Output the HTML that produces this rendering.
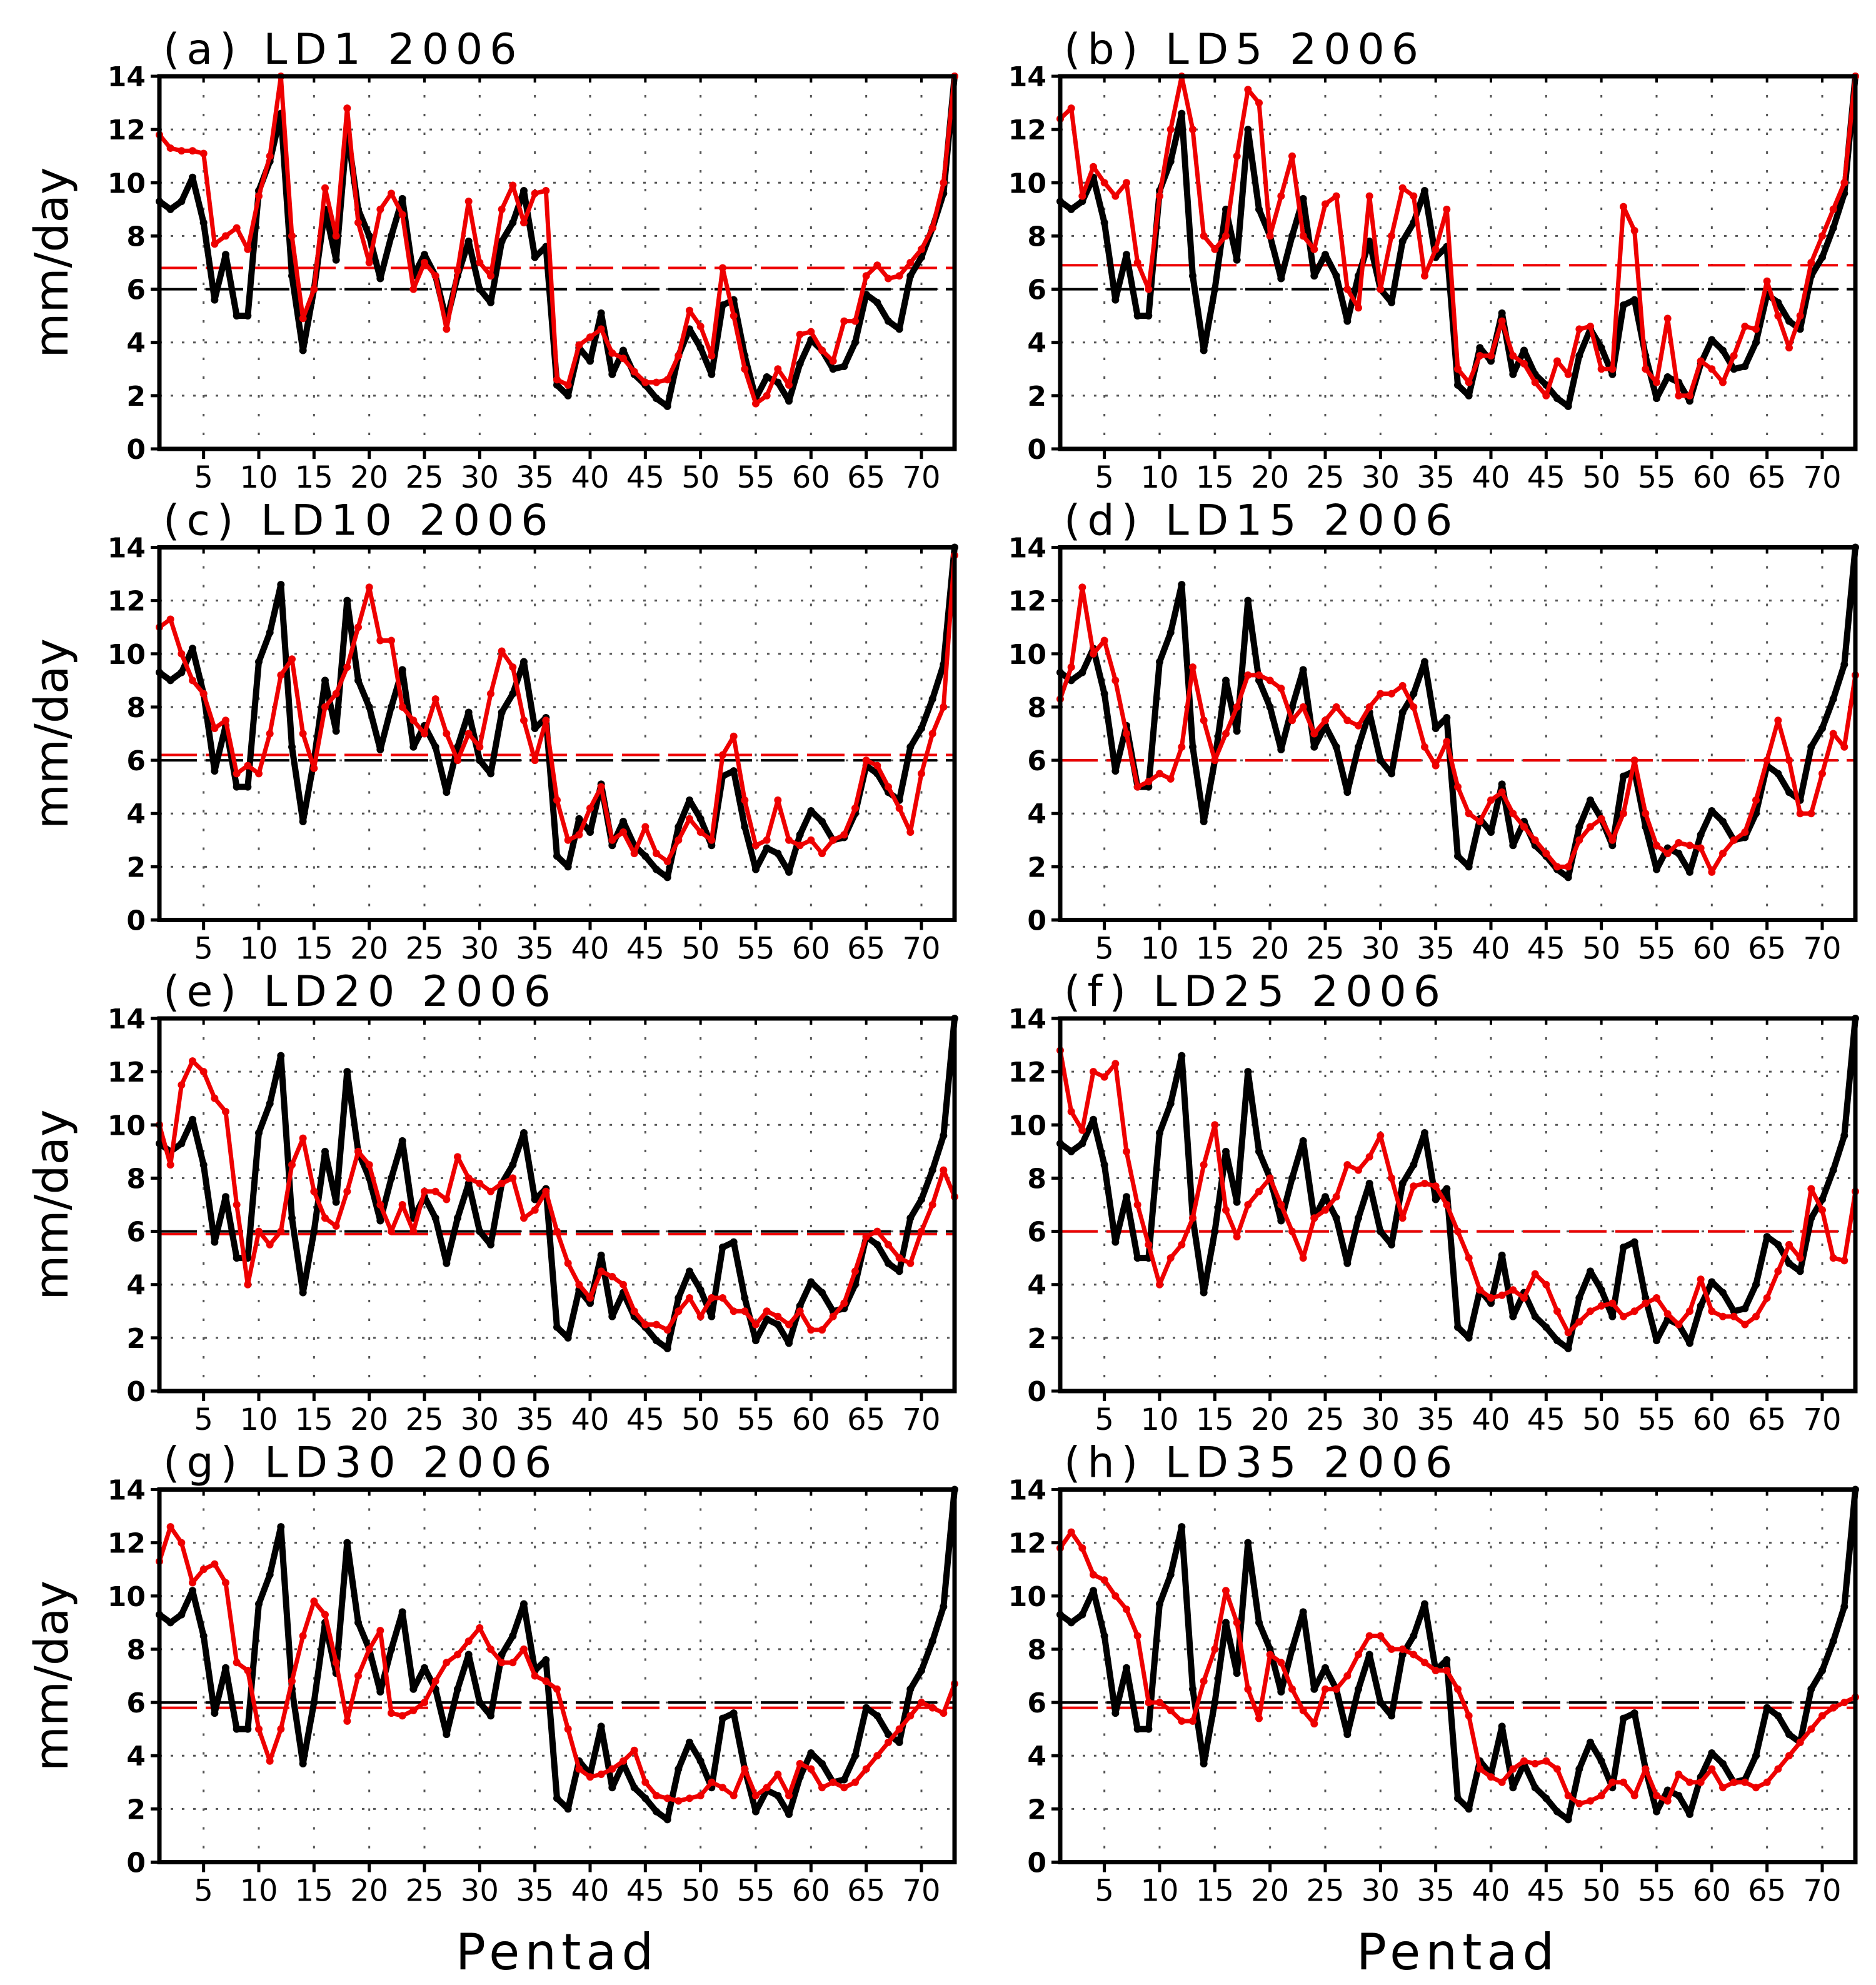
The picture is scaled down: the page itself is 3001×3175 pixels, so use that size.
<!DOCTYPE html>
<html><head><meta charset="utf-8"><style>
html,body{margin:0;padding:0;background:#fff;}
svg{display:block;}
text{font-family:"DejaVu Sans","Liberation Sans",sans-serif;fill:#000;}
</style></head><body>
<svg id="fig" width="3001" height="3175" viewBox="0 0 3001 3175" xmlns="http://www.w3.org/2000/svg"></svg>
<script>
const pentads = Array.from({length:73},(_,i)=>i+1);
const yTicks = [0,2,4,6,8,10,12,14];
const xTicks = [5,10,15,20,25,30,35,40,45,50,55,60,65,70];
const obs = [9.3,9.0,9.3,10.2,8.5,5.6,7.3,5.0,5.0,9.7,10.8,12.6,6.5,3.7,6.0,9.0,7.1,12.0,9.0,8.0,6.4,8.0,9.4,6.5,7.3,6.5,4.8,6.5,7.8,6.0,5.5,7.8,8.5,9.7,7.2,7.6,2.4,2.0,3.8,3.3,5.1,2.8,3.7,2.8,2.4,1.9,1.6,3.5,4.5,3.8,2.8,5.4,5.6,3.5,1.9,2.7,2.5,1.8,3.2,4.1,3.7,3.0,3.1,4.0,5.8,5.5,4.8,4.5,6.5,7.2,8.3,9.6,14.0];
const obsMean = 6.0;
const titles = ["(a)  LD1  2006","(b)  LD5  2006","(c)  LD10  2006","(d)  LD15  2006","(e)  LD20  2006","(f)  LD25  2006","(g)  LD30  2006","(h)  LD35  2006"];
const fcstMeans = [6.8,6.9,6.2,6.0,5.9,6.0,5.8,5.8];
const ld1 = [11.8,11.3,11.2,11.2,11.1,7.7,8.0,8.3,7.5,9.5,11.0,14.0,8.0,4.9,6.0,9.8,8.0,12.8,8.5,7.0,9.0,9.6,8.8,6.0,7.0,6.5,4.5,6.7,9.3,7.0,6.5,9.0,9.9,8.5,9.6,9.7,2.6,2.4,3.9,4.2,4.5,3.6,3.4,2.9,2.5,2.5,2.6,3.5,5.2,4.6,3.5,6.8,5.0,3.0,1.7,2.0,3.0,2.4,4.3,4.4,3.7,3.3,4.8,4.8,6.5,6.9,6.4,6.5,7.0,7.5,8.3,10.0,14.0];
const ld5 = [12.4,12.8,9.5,10.6,10.0,9.5,10.0,7.0,6.0,9.5,12.0,14.0,12.0,8.0,7.5,8.0,11.0,13.5,13.0,8.0,9.5,11.0,8.0,7.5,9.2,9.5,6.0,5.3,9.5,6.0,8.0,9.8,9.5,6.5,7.5,9.0,3.0,2.5,3.5,3.5,4.8,3.5,3.2,2.5,2.0,3.3,2.8,4.5,4.6,3.0,3.0,9.1,8.2,3.0,2.5,4.9,2.0,2.0,3.3,3.0,2.5,3.5,4.6,4.5,6.3,5.0,3.8,5.0,7.0,8.0,9.0,10.0,14.0];
const ld10 = [11.0,11.3,10.0,9.0,8.5,7.2,7.5,5.5,5.8,5.5,7.0,9.2,9.8,7.0,5.7,8.0,8.5,9.5,11.0,12.5,10.5,10.5,8.0,7.5,7.0,8.3,7.0,6.0,7.0,6.5,8.5,10.1,9.5,7.5,6.0,7.5,4.5,3.0,3.2,4.2,5.0,3.0,3.3,2.5,3.5,2.5,2.2,3.0,3.8,3.3,3.0,6.2,6.9,4.5,2.8,3.0,4.5,3.0,2.8,3.0,2.5,3.0,3.2,4.2,6.0,5.8,5.0,4.2,3.3,5.5,7.0,8.0,13.7];
const ld15 = [8.3,9.5,12.5,10.0,10.5,9.0,7.0,5.0,5.2,5.5,5.3,6.5,9.5,7.5,6.0,7.0,8.0,9.2,9.2,9.0,8.7,7.5,8.0,7.0,7.5,8.0,7.5,7.3,8.0,8.5,8.5,8.8,8.0,6.5,5.8,6.7,5.0,4.0,3.7,4.5,4.8,4.0,3.5,3.0,2.5,2.0,2.0,3.0,3.5,3.8,3.0,4.0,6.0,4.0,2.8,2.5,2.9,2.8,2.7,1.8,2.5,3.0,3.3,4.5,6.0,7.5,6.0,4.0,4.0,5.5,7.0,6.5,9.2];
const ld20 = [10.0,8.5,11.5,12.4,12.0,11.0,10.5,7.0,4.0,6.0,5.5,6.0,8.5,9.5,7.5,6.5,6.2,7.5,9.0,8.5,7.0,6.0,7.0,6.0,7.5,7.5,7.2,8.8,8.0,7.8,7.5,7.8,8.0,6.5,6.8,7.5,6.0,4.8,4.0,3.5,4.5,4.3,4.0,3.0,2.5,2.5,2.3,3.0,3.5,2.8,3.5,3.5,3.0,3.0,2.5,3.0,2.8,2.5,3.0,2.3,2.3,2.8,3.3,4.5,5.8,6.0,5.5,5.0,4.8,6.0,7.0,8.3,7.3];
const ld25 = [12.8,10.5,9.8,12.0,11.8,12.3,9.0,7.0,5.5,4.0,5.0,5.5,6.5,8.5,10.0,6.8,5.8,7.0,7.5,8.0,7.0,6.0,5.0,6.5,6.8,7.3,8.5,8.3,8.8,9.6,8.0,6.5,7.7,7.8,7.7,7.0,6.0,5.0,3.8,3.5,3.6,3.8,3.5,4.4,4.0,3.0,2.2,2.6,3.0,3.2,3.3,2.8,3.0,3.3,3.5,2.9,2.5,3.0,4.2,3.0,2.8,2.8,2.5,2.8,3.5,4.5,5.5,5.0,7.6,6.8,5.0,4.9,7.5];
const ld30 = [11.3,12.6,12.0,10.5,11.0,11.2,10.5,7.5,7.2,5.0,3.8,5.0,6.8,8.5,9.8,9.3,7.5,5.3,7.0,8.0,8.7,5.6,5.5,5.7,6.0,6.8,7.5,7.8,8.3,8.8,8.0,7.5,7.5,8.0,7.0,6.8,6.5,5.0,3.5,3.2,3.3,3.5,3.8,4.2,3.0,2.5,2.4,2.3,2.4,2.5,3.0,2.8,2.5,3.5,2.5,2.8,3.3,2.5,3.7,3.5,2.8,3.0,2.8,3.0,3.5,4.0,4.5,5.0,5.5,6.0,5.8,5.6,6.7];
const ld35 = [11.8,12.4,11.8,10.8,10.6,10.0,9.5,8.5,6.0,6.0,5.7,5.3,5.3,6.8,8.0,10.2,9.0,6.5,5.4,7.8,7.5,6.5,5.7,5.2,6.5,6.5,7.0,7.8,8.5,8.5,8.0,8.0,7.8,7.5,7.2,7.2,6.5,5.5,3.5,3.2,3.0,3.5,3.8,3.7,3.8,3.5,2.5,2.2,2.3,2.5,3.0,3.0,2.5,3.5,2.5,2.3,3.3,3.0,3.0,3.5,2.8,3.0,3.0,2.8,3.0,3.5,4.0,4.5,5.0,5.5,5.8,6.0,6.2];
const forecasts = [ld1,ld5,ld10,ld15,ld20,ld25,ld30,ld35];

const NS="http://www.w3.org/2000/svg";
const svg=document.getElementById('fig');
function mk(tag,attrs,parent){const e=document.createElementNS(NS,tag);for(const k in attrs)e.setAttribute(k,attrs[k]);(parent||svg).appendChild(e);return e;}
const colX=[255,1696], rowY=[122,875.5,1629,2382.5], PW=1272, PH=596;

forecasts.forEach((fc,pi)=>{
  const L=colX[pi%2], T=rowY[Math.floor(pi/2)], R=L+PW, B=T+PH;
  const xs=p=>L+(p-1)/(73-1)*PW;
  const ys=v=>B-v/14*PH;
  const g=mk('g',{});
  
  
  const t=mk('text',{x:L+6,y:T-20,'font-size':68,'letter-spacing':11},g);
  
  
  t.textContent=titles[pi];
  xTicks.forEach(v=>{const l=mk('line',{x1:xs(v),x2:xs(v),y1:T,y2:B,stroke:'#555','stroke-width':3,'stroke-dasharray':'4 26'},g);
    
    });
  yTicks.slice(1,-1).forEach(v=>{const l=mk('line',{x1:L,x2:R,y1:ys(v),y2:ys(v),stroke:'#555','stroke-width':3,'stroke-dasharray':'4 14'},g);
    
    });
  let m1=mk('line',{x1:L,x2:R,y1:ys(obsMean),y2:ys(obsMean),stroke:'#000','stroke-width':4,'stroke-dasharray':'60 14'},g);
  
  
  let m2=mk('line',{x1:L,x2:R,y1:ys(fcstMeans[pi]),y2:ys(fcstMeans[pi]),stroke:'#e00','stroke-width':4,'stroke-dasharray':'60 14'},g);
  
  
  const ob=mk('polyline',{points:obs.map((v,i)=>xs(pentads[i])+','+ys(v)).join(' '),fill:'none',stroke:'#000','stroke-width':10,'stroke-linejoin':'round'},g);
  
  
  obs.forEach((v,i)=>{const c=mk('circle',{cx:xs(pentads[i]),cy:ys(v),r:6,fill:'#000'},g);
    
    });
  const fl=mk('polyline',{points:fc.map((v,i)=>xs(pentads[i])+','+ys(v)).join(' '),fill:'none',stroke:'#e00','stroke-width':7,'stroke-linejoin':'round'},g);
  
  
  fc.forEach((v,i)=>{const c=mk('circle',{cx:xs(pentads[i]),cy:ys(v),r:6,fill:'#e00'},g);
    
    });
  const fr=mk('rect',{x:L,y:T,width:PW,height:PH,fill:'none',stroke:'#000','stroke-width':7},g);
  
  
  yTicks.forEach(v=>{mk('line',{x1:L-14,x2:L,y1:ys(v),y2:ys(v),stroke:'#000','stroke-width':5},g);
    const tl=mk('text',{x:L-22,y:ys(v)+16,'font-size':44,'font-weight':'bold','text-anchor':'end'},g);
    
    
    tl.textContent=v;});
  xTicks.forEach(v=>{mk('line',{x1:xs(v),x2:xs(v),y1:B,y2:B+16,stroke:'#000','stroke-width':5},g);
    mk('line',{x1:xs(v),x2:xs(v),y1:T,y2:T+10,stroke:'#000','stroke-width':4},g);
    const tl=mk('text',{x:xs(v),y:B+62,'font-size':48,'text-anchor':'middle'},g);
    
    
    tl.textContent=v;});
  if(pi%2===0){
    const yt=mk('text',{x:0,y:0,'font-size':74,'text-anchor':'middle',transform:`translate(108,${T+PH/2}) rotate(-90)`},g);
    
    
    yt.textContent='mm/day';
  }
  if(pi>=6){
    const xt=mk('text',{x:L+PW/2,y:3150,'font-size':80,'text-anchor':'middle','letter-spacing':8},g);
    
    
    xt.textContent='Pentad';
  }
});
</script>
</body></html>
